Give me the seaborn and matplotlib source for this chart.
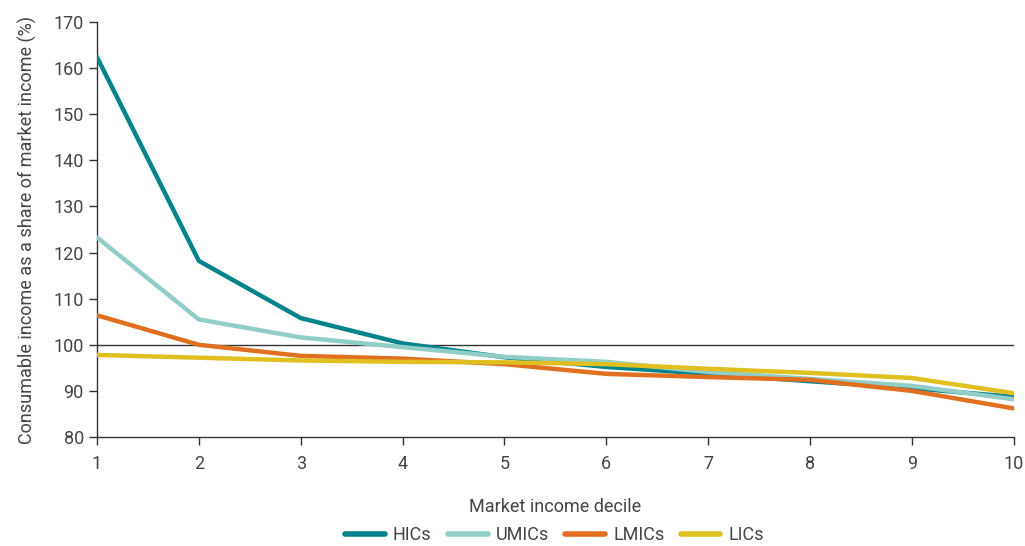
import pandas as pd
import matplotlib
matplotlib.use("Agg")
import matplotlib.pyplot as plt
import seaborn as sns

deciles = [1, 2, 3, 4, 5, 6, 7, 8, 9, 10]
hics = [162.4, 118.2, 105.8, 100.3, 97.3, 95.2, 93.7, 92.1, 90.6, 88.7]
umics = [123.3, 105.5, 101.6, 99.5, 97.4, 96.3, 94.1, 92.6, 91.1, 88.2]
lmics = [106.4, 100.0, 97.6, 97.0, 95.8, 93.7, 93.0, 92.4, 90.0, 86.2]
lics = [97.8, 97.2, 96.6, 96.3, 96.2, 95.8, 94.8, 93.9, 92.8, 89.5]
groups = ["HICs", "UMICs", "LMICs", "LICs"]
colors = ["#00838a", "#92cdc8", "#e07020", "#e0c020"]

df = pd.DataFrame({"decile": deciles, "HICs": hics, "UMICs": umics, "LMICs": lmics, "LICs": lics})
long_df = df.melt(id_vars="decile", var_name="group", value_name="share")

sns.set_style("ticks")
plt.rcParams["font.family"] = ["Roboto", "DejaVu Sans"]
text_color = "#444444"

fig = plt.figure(figsize=(10.25, 5.46), dpi=100, facecolor="white")
ax = fig.add_axes([0.0946, 0.1996, 0.8944, 0.7601])

ax.axhline(100, color="#333333", linewidth=1.0, zorder=1)
sns.lineplot(data=long_df, x="decile", y="share", hue="group", hue_order=groups,
             palette=colors, linewidth=3.2, ax=ax, legend=False, zorder=3)

ax.set_xlim(1, 10)
ax.set_ylim(80, 170)
ax.set_xticks(deciles)
ax.set_yticks(range(80, 171, 10))
ax.tick_params(axis="both", colors="#333333", labelcolor=text_color, labelsize=13,
               direction="out", length=6, width=1)
ax.tick_params(axis="x", pad=7)
sns.despine(ax=ax)
for s in ["left", "bottom"]:
    ax.spines[s].set_color("#333333")
    ax.spines[s].set_linewidth(1.0)

ax.set_xlabel("Market income decile", fontsize=13, color=text_color, labelpad=18)
ax.set_ylabel("Consumable income as a share of market income (%)", fontsize=13,
              color=text_color, labelpad=12)

handles = [plt.Line2D([0], [0], color=c, linewidth=4) for c in colors]
fig.legend(handles, groups, loc="center", bbox_to_anchor=(0.541, 0.02), ncol=4,
           frameon=False, fontsize=13, handlelength=2.2, columnspacing=0.9,
           handletextpad=0.45, labelcolor=text_color)

fig.savefig("out.png", dpi=100, facecolor="white")
